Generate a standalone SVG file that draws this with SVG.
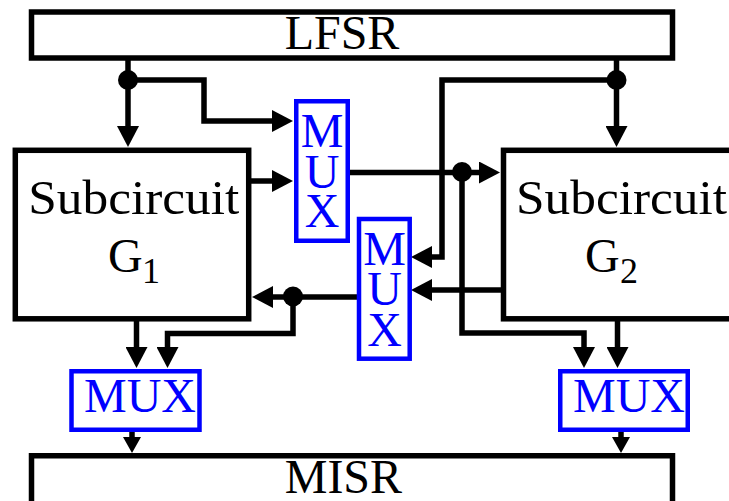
<svg xmlns="http://www.w3.org/2000/svg" width="729" height="501" viewBox="0 0 729 501">
<style>
.box{fill:#fff;stroke:#000;stroke-width:5.5}
.mux{fill:#fff;stroke:#0000ff;stroke-width:4.5}
.t{font-family:"Liberation Serif","Times New Roman",serif;font-size:48px;fill:#000}
.tb{font-family:"Liberation Serif","Times New Roman",serif;font-size:48px;fill:#0000ff;text-anchor:middle}
.w{fill:none;stroke:#000;stroke-width:5.5}
.a{marker-end:url(#ah)}
.s{marker-end:url(#ahs)}
</style>
<defs>
<marker id="ah" markerUnits="userSpaceOnUse" markerWidth="22" markerHeight="22" viewBox="0 0 21 22" refX="1" refY="11" orient="auto"><path d="M0,0 L21,11 L0,22 z" fill="#000"/></marker>
<marker id="ahs" markerUnits="userSpaceOnUse" markerWidth="16" markerHeight="18" viewBox="0 0 16 18" refX="1" refY="9" orient="auto"><path d="M0,0 L16,9 L0,18 z" fill="#000"/></marker>
</defs>
<g id="connectors">
<path class="w a" d="M128,58 V127"/>
<path class="w a" d="M128,80 H204 V121 H273"/>
<path class="w a" d="M616.5,58 V127"/>
<path class="w a" d="M616.5,80 H442 V257 H431"/>
<path class="w a" d="M251,181 H273"/>
<path class="w a" d="M350,172.5 H480"/>
<path class="w a" d="M462,172.5 V333 H584 V348"/>
<path class="w a" d="M617.5,321 V348"/>
<path class="w a" d="M501,290 H431"/>
<path class="w a" d="M357,297 H272"/>
<path class="w a" d="M293,297 V333.5 H167.5 V348"/>
<path class="w a" d="M136.5,321 V348"/>
<path class="w s" d="M132,432 V438"/>
<path class="w s" d="M621,432 V438"/>
<circle cx="128" cy="80" r="10" fill="#000"/>
<circle cx="616.5" cy="80" r="10" fill="#000"/>
<circle cx="462" cy="172" r="10" fill="#000"/>
<circle cx="293" cy="296.5" r="10" fill="#000"/>
</g>
<g id="lfsr">
<rect class="box" x="31.5" y="12" width="641" height="46"/>
<text class="t" x="342" y="49" text-anchor="middle">LFSR</text>
</g>
<g id="misr">
<rect class="box" x="31.5" y="455.75" width="641" height="70"/>
<text class="t" x="343.4" y="493" text-anchor="middle">MISR</text>
</g>
<g id="g1">
<rect class="box" x="15.3" y="150.3" width="233.4" height="168.5"/>
<text class="t" x="28.3" y="214" textLength="211" lengthAdjust="spacingAndGlyphs">Subcircuit</text>
<text class="t" x="108" y="271.7">G<tspan x="142" y="283" font-size="36">1</tspan></text>
</g>
<g id="g2">
<rect class="box" x="503.5" y="150.3" width="260" height="168.5"/>
<text class="t" x="516" y="214" textLength="211" lengthAdjust="spacingAndGlyphs">Subcircuit</text>
<text class="t" x="585" y="271.7">G<tspan x="620" y="283" font-size="36">2</tspan></text>
</g>
<g id="mux1">
<rect class="mux" x="296.25" y="101.25" width="51.5" height="139.5"/>
<text class="tb" x="322" y="147">M</text>
<text class="tb" x="322" y="188">U</text>
<text class="tb" x="322" y="227">X</text>
</g>
<g id="mux2">
<rect class="mux" x="359" y="219" width="50.7" height="139.7"/>
<text class="tb" x="384.5" y="265">M</text>
<text class="tb" x="384.5" y="305">U</text>
<text class="tb" x="384.5" y="346">X</text>
</g>
<g id="mux3">
<rect class="mux" x="71.5" y="371.25" width="128" height="58.5"/>
<text class="tb" x="140" y="412">MUX</text>
</g>
<g id="mux4">
<rect class="mux" x="560.25" y="371.25" width="127.5" height="58.5"/>
<text class="tb" x="629" y="412">MUX</text>
</g>
</svg>
